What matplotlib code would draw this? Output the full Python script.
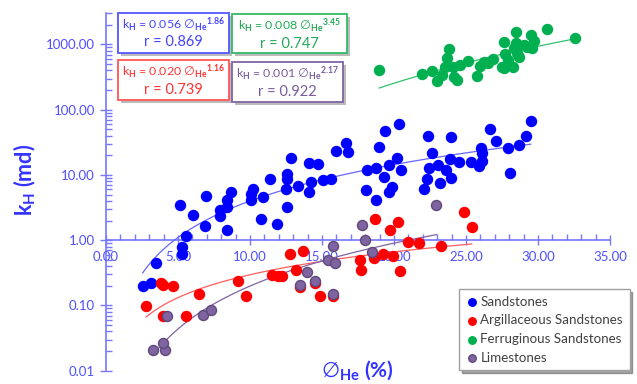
import matplotlib
matplotlib.use('Agg')
import matplotlib.pyplot as plt
from matplotlib.patches import Rectangle
from matplotlib.ticker import FixedLocator, LogLocator, NullFormatter, FormatStrFormatter
import numpy as np

plt.rcParams['font.family'] = ['Lato', 'DejaVu Sans']
plt.rcParams['mathtext.fontset'] = 'custom'
plt.rcParams['mathtext.rm'] = 'Lato'
plt.rcParams['mathtext.bf'] = 'Lato:bold'
plt.rcParams['mathtext.it'] = 'Lato:italic'
plt.rcParams['mathtext.sf'] = 'DejaVu Sans'

# porosity (%) and horizontal permeability (md) per rock type
sand_phi = [2.55, 3.10, 3.47, 5.26, 5.31, 5.56, 5.14, 6.01, 6.92, 6.88, 7.92, 7.92, 8.38, 8.42, 8.68,
            8.42, 10.19, 10.10, 10.08, 10.90, 10.78, 11.89, 11.41, 12.83, 12.55, 12.57, 12.48, 12.59,
            13.35, 14.11, 14.72, 14.22, 14.12, 15.09, 15.63, 15.96, 16.65, 16.83, 18.10, 18.72, 18.98,
            19.36, 20.33, 19.65, 20.19, 20.52, 19.33, 18.07, 19.84, 19.67, 18.73, 22.35, 23.96, 22.66,
            23.86, 24.53, 22.44, 23.06, 23.61, 23.96, 22.31, 22.10, 23.17, 26.67, 29.49, 27.08, 29.20,
            27.94, 28.65, 26.04, 26.09, 26.11, 25.87, 25.33, 28.08]
sand_k = [0.20, 0.22, 0.44, 0.62, 0.80, 1.17, 3.50, 2.46, 4.80, 1.67, 2.86, 2.31, 3.26, 4.07, 5.47,
          1.41, 6.10, 5.06, 4.11, 4.59, 2.08, 1.79, 8.69, 18.0, 10.4, 8.81, 6.12, 3.18,
          6.67, 15.1, 14.7, 7.68, 5.43, 8.44, 8.75, 23.5, 30.8, 22.3, 12.0, 12.9, 26.6,
          47.2, 59.3, 14.1, 17.9, 11.7, 9.32, 5.93, 6.60, 5.40, 4.07, 39.1, 38.5, 21.6,
          17.8, 15.8, 12.7, 14.1, 11.7, 8.97, 8.60, 6.08, 7.65, 50.5, 66.7, 32.9, 39.4,
          25.6, 28.8, 26.3, 21.9, 16.5, 13.5, 15.8, 10.7]

argil_phi = [2.78, 3.80, 3.98, 4.67, 3.94, 5.56, 6.48, 9.15, 9.70, 11.53, 11.92, 12.24, 12.78, 13.70,
             13.19, 13.47, 14.51, 14.86, 15.74, 17.64, 17.69, 18.61, 19.26, 19.95, 20.42, 18.68,
             19.72, 20.26, 20.99, 21.76, 23.24, 24.86, 25.40]
argil_k = [0.099, 0.221, 0.205, 0.196, 0.070, 0.070, 0.152, 0.240, 0.141, 0.298, 0.279, 0.279, 0.617,
           0.674, 0.345, 0.192, 0.224, 0.140, 0.138, 0.491, 0.345, 0.534, 0.621, 0.565, 0.333, 2.13,
           1.41, 1.90, 0.938, 0.906, 0.804, 2.70, 1.59]

ferr_phi = [18.97, 21.92, 22.62, 22.99, 23.31, 23.84, 23.68, 23.54, 24.20, 24.35, 24.12, 24.56, 25.16,
            25.74, 25.97, 26.25, 26.55, 26.90, 27.48, 27.63, 27.71, 27.64, 27.94, 28.24, 28.49, 28.47,
            28.52, 28.70, 28.33, 29.03, 29.22, 29.53, 29.70, 29.56, 30.64, 32.60]
ferr_k = [404, 352, 385, 279, 342, 862, 617, 459, 319, 287, 459, 484, 555,
          328, 474, 547, 517, 598, 459, 1108, 713, 434, 581, 459, 1532, 1047,
          736, 653, 878, 986, 929, 1378, 1123, 887, 1721, 1249]

lime_phi = [3.28, 4.12, 3.98, 4.22, 6.72, 7.29, 13.44, 13.96, 14.51, 15.45, 15.90, 15.78, 15.78,
            17.78, 17.97, 18.45, 22.95]
lime_k = [0.0205, 0.0205, 0.027, 0.070, 0.072, 0.085, 0.205, 0.330, 0.240, 0.494, 0.444, 0.804,
          0.152, 1.73, 0.99, 0.667, 3.50]

names = ['Sandstones', 'Argillaceous Sandstones', 'Ferruginous Sandstones', 'Limestones']
coef_text = ['0.056', '0.020', '0.008', '0.001']
expo_text = ['1.86', '1.16', '3.45', '2.17']
r_text = ['0.869', '0.739', '0.747', '0.922']

series = [(sand_phi, sand_k), (argil_phi, argil_k), (ferr_phi, ferr_k), (lime_phi, lime_k)]
face = ['#0000FF', '#FF0000', '#00B050', '#8064A2']
edge = ['#0000FF', '#FF0000', '#00B050', '#5F497A']
trend = ['#6666FF', '#FF5C5C', '#33C06E', '#8064A2']

axis_col = '#7777FF'
label_col = '#4F4FFF'

W, H = 637, 384
fig = plt.figure(figsize=(W / 100, H / 100), dpi=100)
ax = fig.add_axes([106 / W, 13.3 / H, 504 / W, 357.4 / H])

handles = []
for (phi, k), fc, ec, tc, nm in zip(series, face, edge, trend, names):
    phi = np.array(phi)
    k = np.array(k)
    h = ax.scatter(phi, k, s=52, c=fc, edgecolors=ec, linewidths=1.0, zorder=3, label=nm)
    handles.append(h)
    # power-law trendline fitted in log-log space
    b, lna = np.polyfit(np.log(phi), np.log(k), 1)
    xs = np.linspace(phi.min(), phi.max(), 200)
    ax.plot(xs, np.exp(lna) * xs ** b, color=tc, lw=0.9, zorder=2)

ax.set_yscale('log')
ax.set_xlim(0, 35)
ax.set_ylim(0.01, 3000)

for s in ['top', 'right']:
    ax.spines[s].set_visible(False)
ax.spines['bottom'].set_position(('data', 1))
ax.spines['left'].set_position(('data', 0))
for s in ['bottom', 'left']:
    ax.spines[s].set_color(axis_col)
    ax.spines[s].set_linewidth(1.2)
    ax.spines[s].set_zorder(1)

ax.xaxis.set_major_locator(FixedLocator(np.arange(0, 36, 5)))
ax.xaxis.set_minor_locator(FixedLocator(np.arange(0, 36, 1)))
ax.xaxis.set_major_formatter(FormatStrFormatter('%.2f'))
ax.yaxis.set_major_locator(FixedLocator([0.01, 0.1, 1, 10, 100, 1000]))
ax.yaxis.set_minor_locator(LogLocator(base=10, subs=np.arange(2, 10)))
ax.yaxis.set_minor_formatter(NullFormatter())
ax.yaxis.set_major_formatter(FormatStrFormatter('%.2f'))

ax.tick_params(axis='x', which='major', direction='inout', length=7, width=1, color=axis_col,
               labelcolor=label_col, labelsize=9.5, pad=4)
ax.tick_params(axis='x', which='minor', direction='in', length=4, width=1, color=axis_col)
ax.tick_params(axis='y', which='major', direction='inout', length=8, width=1, color=axis_col,
               labelcolor=label_col, labelsize=9.5, pad=4)
ax.tick_params(axis='y', which='minor', direction='in', length=4, width=1, color=axis_col)
for lab in ax.get_xticklabels() + ax.get_yticklabels():
    lab.set_zorder(1)

fig.text(25 / W, 1 - 180 / H, r'k$_\mathbf{H}$ (md)', rotation=90, ha='center', va='center',
         color='#3333FF', fontsize=15.5, fontweight='bold')
fig.text(357 / W, 1 - 370 / H, r'$\mathsf{∅}_\mathbf{He}$ (%)', ha='center', va='center',
         color='#3333FF', fontsize=15, fontweight='bold')

# equation boxes: (left, top, right, bottom) in pixels from the top-left corner
boxes = [(118, 13, 229, 53), (118, 60, 229, 100), (232, 14, 347, 53), (232, 62, 343, 102)]
box_edge = ['#5555FF', '#FF5555', '#33BB66', '#8064A2']
box_txt = ['#4444FF', '#FF3333', '#22AA55', '#7A5C9E']
for i in range(4):
    x0, y0, x1, y1 = boxes[i]
    shadow = Rectangle(((x0 + 3) / W, 1 - (y1 + 3) / H), (x1 - x0) / W, (y1 - y0) / H,
                       transform=fig.transFigure, fc='#BBBBBB', ec='none', zorder=5)
    rect = Rectangle((x0 / W, 1 - y1 / H), (x1 - x0) / W, (y1 - y0) / H,
                     transform=fig.transFigure, fc='white', ec=box_edge[i], lw=1.3, zorder=6)
    fig.add_artist(shadow)
    fig.add_artist(rect)
    cx = (x0 + x1) / 2
    line1 = ('k$_\\mathbf{H}$ = ' + coef_text[i] + ' $\\mathsf{∅}_\\mathbf{He}{}^\\mathbf{'
             + expo_text[i] + '}$')
    fig.text(cx / W, 1 - (y0 + 12) / H, line1, ha='center', va='center', color=box_txt[i],
             fontsize=8.9, zorder=7)
    fig.text(cx / W, 1 - (y0 + 29.5) / H, 'r = ' + r_text[i], ha='center', va='center',
             color=box_txt[i], fontsize=10.5, zorder=7)

leg = fig.legend(handles=handles, loc='upper left', bbox_to_anchor=(459 / W, 1 - 289 / H),
                 frameon=True, fancybox=False, shadow=True, fontsize=9.6, markerscale=0.75,
                 handletextpad=0.1, handlelength=1.0, labelspacing=0.5, borderpad=0.5,
                 borderaxespad=0)
leg.get_frame().set_edgecolor('#A0A0A0')
for txt in leg.get_texts():
    txt.set_color('#404040')

fig.savefig('out.png', dpi=100)
